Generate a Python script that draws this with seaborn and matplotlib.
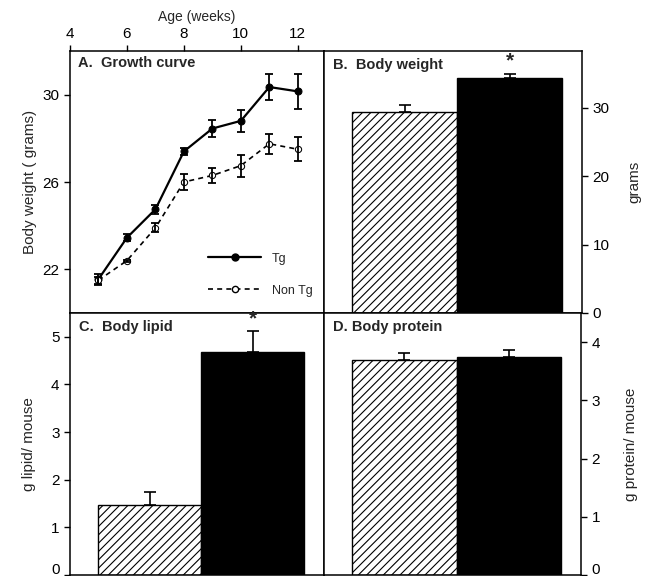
import matplotlib
matplotlib.use("Agg")
import matplotlib.pyplot as plt
from matplotlib.lines import Line2D
from matplotlib.transforms import ScaledTranslation
import seaborn as sns
import pandas as pd

# ---------------- data ----------------
weeks = [5, 6, 7, 8, 9, 10, 11, 12]
tg_mean = [21.55, 23.45, 24.75, 27.4, 28.45, 28.8, 30.35, 30.15]
tg_err = [0.25, 0.15, 0.2, 0.15, 0.4, 0.5, 0.6, 0.8]
ntg_mean = [21.5, 22.4, 23.9, 26.0, 26.3, 26.75, 27.75, 27.5]
ntg_err = [0.15, 0.05, 0.2, 0.35, 0.35, 0.5, 0.45, 0.55]

groups = ["Non Tg", "Tg"]
weight_mean = [29.4, 34.4]
weight_err = [1.0, 0.6]
lipid_mean = [1.47, 4.69]
lipid_err = [0.27, 0.43]
protein_mean = [3.69, 3.74]
protein_err = [0.13, 0.12]

# ---------------- style ----------------
sns.set_style("ticks")
plt.rcParams["font.family"] = ["Liberation Sans", "DejaVu Sans"]
plt.rcParams["hatch.linewidth"] = 0.8
plt.rcParams["axes.linewidth"] = 1.1
plt.rcParams["xtick.major.width"] = 1.0
plt.rcParams["ytick.major.width"] = 1.0
plt.rcParams["xtick.major.size"] = 4
plt.rcParams["ytick.major.size"] = 4
plt.rcParams["xtick.color"] = "black"
plt.rcParams["ytick.color"] = "black"
plt.rcParams["axes.edgecolor"] = "black"

W, H = 645, 576
fig = plt.figure(figsize=(W / 100, H / 100), dpi=100)
axA = fig.add_axes([70 / W, 1 - 313 / H, 254 / W, 262 / H])
axB = fig.add_axes([324 / W, 1 - 313 / H, 258 / W, 262 / H])
axC = fig.add_axes([70 / W, 1 - 575 / H, 254 / W, 262 / H])
axD = fig.add_axes([324 / W, 1 - 575 / H, 257 / W, 262 / H])

# ---------------- A. growth curve ----------------
sns.lineplot(x=weeks, y=tg_mean, ax=axA, color="black", lw=1.6,
             marker="o", markersize=5, markerfacecolor="black",
             markeredgecolor="black")
sns.lineplot(x=weeks, y=ntg_mean, ax=axA, color="black", lw=1.2,
             linestyle=(0, (3, 2.5)), marker="o", markersize=4.5,
             markerfacecolor="white", markeredgecolor="black")
axA.errorbar(weeks, tg_mean, yerr=tg_err, fmt="none", ecolor="black",
             elinewidth=1.3, capsize=3, capthick=1.3)
axA.errorbar(weeks, ntg_mean, yerr=ntg_err, fmt="none", ecolor="black",
             elinewidth=1.3, capsize=3, capthick=1.3)
axA.set_xlim(4, 12.92)
axA.set_ylim(20, 32)
axA.set_xticks([4, 6, 8, 10, 12])
axA.set_yticks([22, 26, 30])
axA.xaxis.tick_top()
axA.xaxis.set_label_position("top")
axA.set_xlabel("Age (weeks)", fontsize=10, labelpad=4)
axA.set_ylabel("Body weight ( grams)", fontsize=11, labelpad=4)
axA.tick_params(labelsize=11)
axA.text(0.03, 0.954, "A.  Growth curve", transform=axA.transAxes,
         fontsize=10.5, fontweight="bold", va="center", ha="left")
handles = [
    Line2D([], [], color="black", lw=1.6, marker="o", markersize=5,
           markerfacecolor="black"),
    Line2D([], [], color="black", lw=1.2, linestyle=(0, (3, 2.5)), marker="o",
           markersize=4.5, markerfacecolor="white"),
]
axA.legend(handles, ["Tg", "Non Tg"], loc="lower left",
           bbox_to_anchor=(0.5, 0.02), frameon=False, fontsize=9,
           handlelength=4.2, handletextpad=0.9, labelspacing=1.6)


# ---------------- bar panels ----------------
def bar_panel(ax, means, errs, ylim, yticks, title, star, side):
    df = pd.DataFrame({"group": groups, "value": means})
    sns.barplot(data=df, x="group", y="value", hue="group", order=groups,
                hue_order=groups, palette={"Non Tg": "white", "Tg": "black"},
                edgecolor="black", linewidth=1.0, width=1.0, legend=False,
                errorbar=None, ax=ax)
    for patch in ax.patches:
        if patch.get_facecolor()[0] > 0.5:
            patch.set_hatch("////")
    ax.errorbar([0, 1], means, yerr=[[0, 0], errs], fmt="none",
                ecolor="black", elinewidth=1.2, capsize=4, capthick=1.2)
    ax.set_xlim(-0.77, 1.69)
    ax.set_ylim(*ylim)
    ax.set_yticks(yticks)
    ax.set_xticks([])
    ax.set_xlabel("")
    ax.tick_params(labelsize=11)
    if side == "right":
        ax.yaxis.tick_right()
        ax.yaxis.set_label_position("right")
    for s in ax.spines.values():
        s.set_visible(True)
    ax.text(0.035, 0.947, title, transform=ax.transAxes, fontsize=10.5,
            fontweight="bold", va="center", ha="left")
    if star:
        ax.annotate("*", xy=(1, means[1] + errs[1]), xytext=(0, 2),
                    textcoords="offset points", ha="center", va="bottom",
                    fontsize=15, fontweight="bold")


bar_panel(axB, weight_mean, weight_err, (0, 38.3), [0, 10, 20, 30],
          "B.  Body weight", True, "right")
axB.set_ylabel("grams", fontsize=11, labelpad=13)

bar_panel(axC, lipid_mean, lipid_err, (0, 5.5), [0, 1, 2, 3, 4, 5],
          "C.  Body lipid", True, "left")
axC.set_ylabel("g lipid/ mouse", fontsize=11, labelpad=11)

bar_panel(axD, protein_mean, protein_err, (0, 4.5), [0, 1, 2, 3, 4],
          "D. Body protein", False, "right")
axD.set_ylabel("g protein/ mouse", fontsize=11, labelpad=17)

# lift the bottom "0" labels so they stay inside the figure
for ax in (axC, axD):
    lab = ax.get_yticklabels()[0]
    lab.set_transform(lab.get_transform()
                      + ScaledTranslation(0, 5 / 72, fig.dpi_scale_trans))

fig.savefig("out.png", dpi=100)
